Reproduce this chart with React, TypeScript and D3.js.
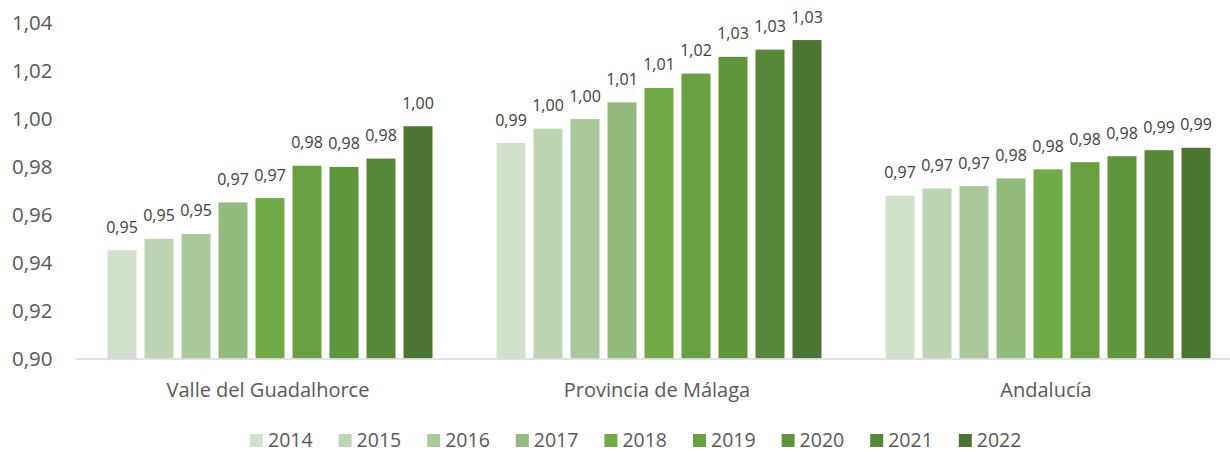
import React from "react";
import * as d3 from "d3";

const categories = ["Valle del Guadalhorce", "Provincia de Málaga", "Andalucía"];
const years = ["2014", "2015", "2016", "2017", "2018", "2019", "2020", "2021", "2022"];
const valle = [0.9452, 0.950, 0.952, 0.9652, 0.967, 0.9805, 0.980, 0.9835, 0.997];
const malaga = [0.990, 0.996, 1.000, 1.007, 1.013, 1.019, 1.026, 1.029, 1.033];
const andalucia = [0.968, 0.971, 0.972, 0.9752, 0.979, 0.982, 0.9845, 0.987, 0.988];
const seriesByCategory = [valle, malaga, andalucia];
const yTicks = [0.90, 0.92, 0.94, 0.96, 0.98, 1.00, 1.02, 1.04];
const colors = ["#D3E0CC", "#BDD5B3", "#A9C99A", "#93BB7E", "#70AB47", "#68A042", "#5F963C", "#578837", "#4B7530"];

const W = 1230;
const H = 452;
const FONT = "'Open Sans', 'Noto Sans', sans-serif";
const fmt = (v: number) => (Math.round(v * 100) / 100).toFixed(2).replace(".", ",");

export default function App() {
  const x0 = d3.scaleBand<string>().domain(categories).range([75.5, 1242.5]).paddingInner(0).paddingOuter(0);
  const x1 = d3.scaleBand<string>().domain(years).range([0, x0.bandwidth()]).paddingInner(8 / 37).paddingOuter(0.865);
  const y = d3.scaleLinear().domain([0.9, 1.04]).range([358.5, 23.3]);
  const color = d3.scaleOrdinal<string, string>().domain(years).range(colors);

  const legendStep = 88.6;
  const legendX0 = 250;

  return (
    <svg width={W} height={H} style={{ position: "absolute", left: 0, top: 0, background: "#fff" }}>
      <rect x={0} y={0} width={W} height={H} fill="#fff" />
      {yTicks.map((t) => (
        <text key={t} x={52.5} y={y(t)} dy="0.35em" textAnchor="end" fontFamily={FONT} fontSize={20.5} fill="#595959">
          {fmt(t)}
        </text>
      ))}
      {categories.map((c, ci) => (
        <g key={c} transform={`translate(${x0(c)},0)`}>
          {years.map((yr, i) => {
            const v = seriesByCategory[ci][i];
            const bx = x1(yr)!;
            return (
              <g key={yr}>
                <rect x={bx} y={y(v)} width={x1.bandwidth()} height={y(0.9) - y(v)} fill={color(yr)} />
                <text x={bx + x1.bandwidth() / 2} y={y(v) - 17.5} textAnchor="middle" fontFamily={FONT} fontSize={16} fill="#404040">
                  {fmt(v)}
                </text>
              </g>
            );
          })}
          <text x={x0.bandwidth() / 2 - 2} y={397} textAnchor="middle" fontFamily={FONT} fontSize={20} fill="#595959">
            {c}
          </text>
        </g>
      ))}
      <line x1={75.5} x2={W} y1={359} y2={359} stroke="#D9D9D9" strokeWidth={1.5} />
      {years.map((yr, i) => (
        <g key={yr} transform={`translate(${legendX0 + i * legendStep},0)`}>
          <rect x={0} y={434} width={13} height={13} fill={color(yr)} />
          <text x={18} y={447} fontFamily={FONT} fontSize={19.5} fill="#595959">
            {yr}
          </text>
        </g>
      ))}
    </svg>
  );
}
